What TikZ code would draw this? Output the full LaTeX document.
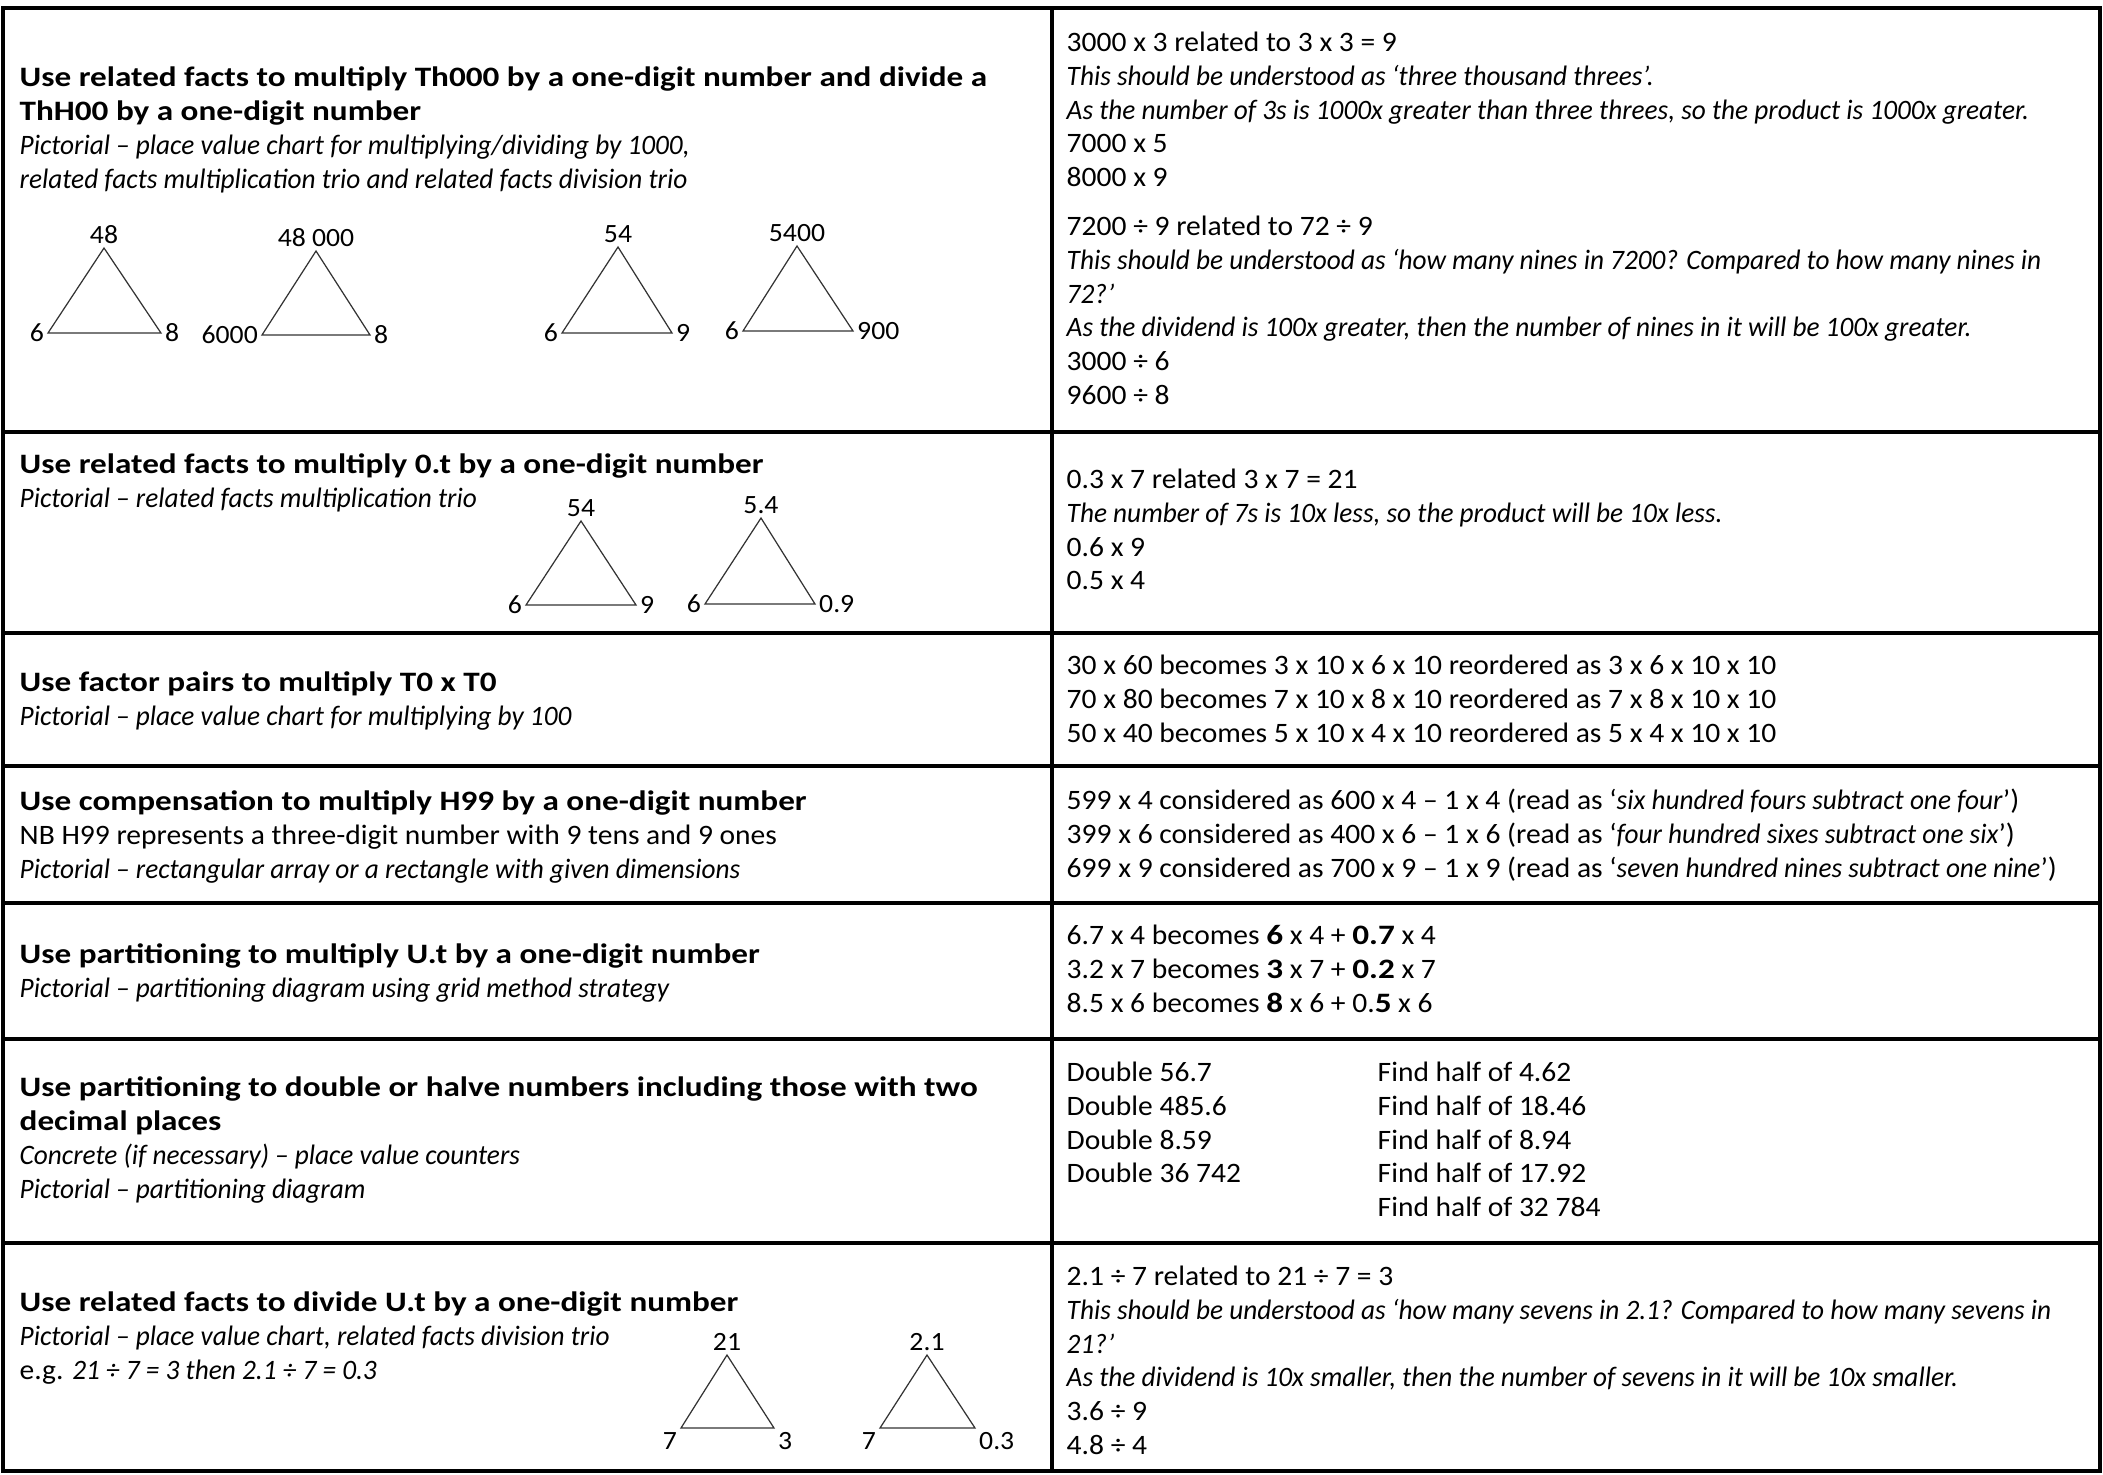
\documentclass[tikz,border=0pt]{standalone}
\usepackage{fontspec}
\setmainfont{Carlito}[
    UprightFeatures={FakeStretch=1.05},
    BoldFeatures={FakeStretch=1.18},
    ItalicFeatures={FakeStretch=0.97}]
\usepackage{tikz}

\tikzset{
    tablerule/.style={line width=0.9pt},
    cell/.style={anchor=north west,align=left,inner sep=0pt,yshift=5.3pt,
        font=\fontsize{8}{9.6}\selectfont,execute at begin node=\strut},
    trio/.style={line width=0.35pt,draw=black!80},
    num/.style={inner sep=1pt,font=\fontsize{7.5}{9}\selectfont}
}

\begin{document}
\begin{tikzpicture}[x=0.1mm,y=-0.1mm]
    \useasboundingbox (0,0) rectangle (2103,1474);
    \draw[tablerule] (3,8) rectangle (2100,1471);
    \draw[tablerule] (1052,8) -- (1052,1471);
    \foreach \y in {432,633,766,903,1039,1243}
        \draw[tablerule] (3,\y) -- (2100,\y);

    \node [cell] (skill1) at (19,85)
    {\textbf{Use related facts to multiply Th000 by a one-digit number and divide a}\\
     \textbf{ThH00 by a one-digit number}\\
     \textit{Pictorial – place value chart for multiplying/dividing by 1000,}\\
     \textit{related facts multiplication trio and related facts division trio}};
    \node [cell] (fact1) at (1066,50)
    {3000 x 3 related to 3 x 3 = 9\\
     \textit{This should be understood as ‘three thousand threes’.}\\
     \textit{As the number of 3s is 1000x greater than three threes, so the product is 1000x greater.}\\
     7000 x 5\\
     8000 x 9\\[4.4pt]
     7200 ÷ 9 related to 72 ÷ 9\\
     \textit{This should be understood as ‘how many nines in 7200? Compared to how many nines in}\\
     \textit{72?’}\\
     \textit{As the dividend is 100x greater, then the number of nines in it will be 100x greater.}\\
     3000 ÷ 6\\
     9600 ÷ 8};

    \node [cell] (skill2) at (19,472)
    {\textbf{Use related facts to multiply 0.t by a one-digit number}\\
     \textit{Pictorial – related facts multiplication trio}};
    \node [cell] (fact2) at (1066,487)
    {0.3 x 7 related 3 x 7 = 21\\
     \textit{The number of 7s is 10x less, so the product will be 10x less.}\\
     0.6 x 9\\
     0.5 x 4};

    \node [cell] (skill3) at (19,690)
    {\textbf{Use factor pairs to multiply T0 x T0}\\
     \textit{Pictorial – place value chart for multiplying by 100}};
    \node [cell] (fact3) at (1066,673)
    {30 x 60 becomes 3 x 10 x 6 x 10 reordered as 3 x 6 x 10 x 10\\
     70 x 80 becomes 7 x 10 x 8 x 10 reordered as 7 x 8 x 10 x 10\\
     50 x 40 becomes 5 x 10 x 4 x 10 reordered as 5 x 4 x 10 x 10};

    \node [cell] (skill4) at (19,809)
    {\textbf{Use compensation to multiply H99 by a one-digit number}\\
     NB H99 represents a three-digit number with 9 tens and 9 ones\\
     \textit{Pictorial – rectangular array or a rectangle with given dimensions}};
    \node [cell] (fact4) at (1066,807)
    {599 x 4 considered as 600 x 4 – 1 x 4 (read as ‘\textit{six hundred fours subtract one four}’)\\
     399 x 6 considered as 400 x 6 – 1 x 6 (read as ‘\textit{four hundred sixes subtract one six}’)\\
     699 x 9 considered as 700 x 9 – 1 x 9 (read as ‘\textit{seven hundred nines subtract one nine}’)};

    \node [cell] (skill5) at (19,962)
    {\textbf{Use partitioning to multiply U.t by a one-digit number}\\
     \textit{Pictorial – partitioning diagram using grid method strategy}};
    \node [cell] (fact5) at (1066,943)
    {6.7 x 4 becomes \textbf{6} x 4 + \textbf{0.7} x 4\\
     3.2 x 7 becomes \textbf{3} x 7 + \textbf{0.2} x 7\\
     8.5 x 6 becomes \textbf{8} x 6 + 0.\textbf{5} x 6};

    \node [cell] (skill6) at (19,1095)
    {\textbf{Use partitioning to double or halve numbers including those with two}\\
     \textbf{decimal places}\\
     \textit{Concrete (if necessary) – place value counters}\\
     \textit{Pictorial – partitioning diagram}};
    \node [cell] (double6) at (1066,1080)
    {Double 56.7\\
     Double 485.6\\
     Double 8.59\\
     Double 36 742};
    \node [cell] (half6) at (1377,1080)
    {Find half of 4.62\\
     Find half of 18.46\\
     Find half of 8.94\\
     Find half of 17.92\\
     Find half of 32 784};

    \node [cell] (skill7) at (19,1310)
    {\textbf{Use related facts to divide U.t by a one-digit number}\\
     \textit{Pictorial – place value chart, related facts division trio}\\
     e.g. \textit{21 ÷ 7 = 3 then 2.1 ÷ 7 = 0.3}};
    \node [cell] (fact7) at (1066,1284)
    {2.1 ÷ 7 related to 21 ÷ 7 = 3\\
     \textit{This should be understood as ‘how many sevens in 2.1? Compared to how many sevens in}\\
     \textit{21?’}\\
     \textit{As the dividend is 10x smaller, then the number of sevens in it will be 10x smaller.}\\
     3.6 ÷ 9\\
     4.8 ÷ 4};

    \foreach \k/\ax/\ay/\lx/\rx/\by/\tlab/\llab/\rlab/\la/\ra in {
        1/104/248/48/161/333/48/6/8/east/west,
        2/316/251/262/370/335/48 000/6000/8/east/west,
        3/618/247/562/672/333/54/6/9/east/west,
        4/797/246/743/853/331/5400/6/900/east/west,
        5/581/521/526/636/605/54/6/9/east/west,
        6/761/518/705/815/604/5.4/6/0.9/east/west,
        7/727/1355/681/774/1428/21/7/3/north east/north west,
        8/927/1355/880/975/1428/2.1/7/0.3/north east/north west}
    {
        \coordinate (apex\k) at (\ax,\ay);
        \coordinate (left\k) at (\lx,\by);
        \coordinate (right\k) at (\rx,\by);
        \draw [trio] (apex\k) -- (left\k) -- (right\k) -- cycle;
        \node [num,anchor=south] (top\k) at (apex\k) {\tlab};
        \node [num,anchor=\la] (lo\k) at (left\k) {\llab};
        \node [num,anchor=\ra] (ro\k) at (right\k) {\rlab};
    }
\end{tikzpicture}
\end{document}
